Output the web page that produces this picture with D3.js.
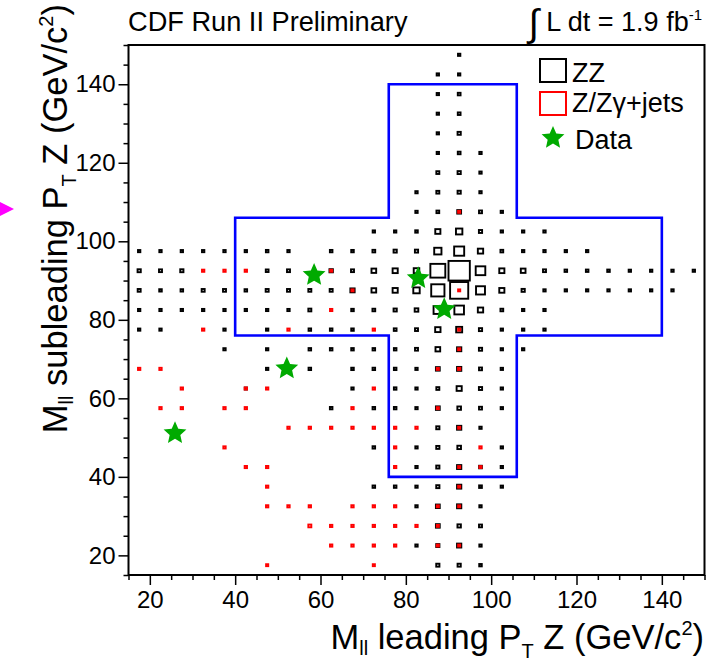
<!DOCTYPE html>
<html>
<head>
<meta charset="utf-8">
<script src="https://cdn.jsdelivr.net/npm/d3@7"></script>
<style>
  html, body { margin: 0; padding: 0; background: #fff; }
  svg { display: block; font-family: "Liberation Sans", Arial, Helvetica, sans-serif; }
</style>
</head>
<body>
<svg id="chart" width="718" height="666"></svg>
<script>
// ---------------- DATA ----------------
const xDomain = [15, 150];
const yDomain = [15, 150];
const binSize = 5;
const majorTicks = [20, 40, 60, 80, 100, 120, 140];
const minorTicks = [15, 25, 30, 35, 45, 50, 55, 65, 70, 75, 85, 90, 95, 105, 110, 115, 125, 130, 135, 145, 150];

// ZZ expectation: [x bin centre, y bin centre, relative content]
const zzBins = [
  [17.5,97.5,.11],[17.5,92.5,.15],[17.5,87.5,.14],[17.5,82.5,.11],[17.5,77.5,.11],
  [22.5,97.5,.11],[22.5,92.5,.14],[22.5,87.5,.12],[22.5,82.5,.11],[22.5,77.5,.11],
  [27.5,97.5,.11],[27.5,92.5,.15],[27.5,87.5,.12],[27.5,82.5,.11],
  [32.5,97.5,.11],[32.5,87.5,.14],[32.5,82.5,.11],
  [37.5,97.5,.11],[37.5,87.5,.14],[37.5,82.5,.11],[37.5,77.5,.11],[37.5,72.5,.11],
  [42.5,97.5,.11],[42.5,87.5,.12],[42.5,82.5,.11],[42.5,62.5,.1],
  [47.5,97.5,.12],[47.5,92.5,.13],[47.5,87.5,.14],[47.5,82.5,.11],[47.5,77.5,.11],[47.5,72.5,.11],[47.5,67.5,.11],
  [52.5,97.5,.11],[52.5,92.5,.14],[52.5,87.5,.14],[52.5,82.5,.11],
  [57.5,87.5,.14],[57.5,82.5,.14],[57.5,77.5,.12],[57.5,72.5,.12],[57.5,67.5,.12],
  [62.5,97.5,.12],[62.5,92.5,.16],[62.5,87.5,.14],[62.5,77.5,.12],[62.5,72.5,.12],[62.5,57.5,.12],
  [67.5,97.5,.12],[67.5,92.5,.14],[67.5,87.5,.2],[67.5,82.5,.12],[67.5,77.5,.12],[67.5,72.5,.12],[67.5,67.5,.12],[67.5,62.5,.11],
  [72.5,102.5,.11],[72.5,97.5,.13],[72.5,92.5,.22],[72.5,87.5,.22],[72.5,82.5,.13],[72.5,72.5,.12],[72.5,67.5,.12],[72.5,57.5,.12],[72.5,47.5,.12],[72.5,37.5,.12],
  [77.5,102.5,.11],[77.5,97.5,.15],[77.5,92.5,.24],[77.5,87.5,.24],[77.5,82.5,.15],[77.5,77.5,.13],[77.5,72.5,.12],[77.5,67.5,.12],[77.5,62.5,.12],[77.5,57.5,.12],[77.5,37.5,.12],
  [82.5,112.5,.11],[82.5,107.5,.11],[82.5,102.5,.12],[82.5,97.5,.15],[82.5,92.5,.26],[82.5,87.5,.3],[82.5,82.5,.17],[82.5,77.5,.14],[82.5,72.5,.14],[82.5,67.5,.11],[82.5,62.5,.11],[82.5,57.5,.11],[82.5,47.5,.11],[82.5,42.5,.11],[82.5,37.5,.11],[82.5,32.5,.11],[82.5,22.5,.11],
  [87.5,142.5,.11],[87.5,137.5,.11],[87.5,132.5,.11],[87.5,127.5,.11],[87.5,122.5,.11],[87.5,117.5,.14],[87.5,112.5,.14],[87.5,107.5,.13],[87.5,102.5,.24],[87.5,97.5,.34],[87.5,92.5,.7],[87.5,87.5,.62],[87.5,82.5,.4],[87.5,77.5,.25],[87.5,72.5,.22],[87.5,67.5,.18],[87.5,62.5,.14],[87.5,57.5,.18],[87.5,52.5,.15],[87.5,47.5,.15],[87.5,42.5,.15],[87.5,37.5,.15],[87.5,32.5,.18],[87.5,27.5,.18],[87.5,22.5,.15],[87.5,17.5,.15],
  [92.5,147.5,.11],[92.5,142.5,.11],[92.5,137.5,.13],[92.5,132.5,.13],[92.5,127.5,.15],[92.5,122.5,.13],[92.5,117.5,.15],[92.5,112.5,.15],[92.5,107.5,.18],[92.5,102.5,.3],[92.5,97.5,.47],[92.5,92.5,1.0],[92.5,87.5,.85],[92.5,82.5,.45],[92.5,77.5,.28],[92.5,72.5,.2],[92.5,67.5,.2],[92.5,62.5,.24],[92.5,57.5,.17],[92.5,52.5,.2],[92.5,47.5,.17],[92.5,42.5,.2],[92.5,37.5,.2],[92.5,32.5,.2],[92.5,27.5,.16],[92.5,22.5,.2],[92.5,17.5,.15],
  [97.5,122.5,.11],[97.5,117.5,.11],[97.5,112.5,.11],[97.5,107.5,.14],[97.5,102.5,.15],[97.5,97.5,.25],[97.5,92.5,.45],[97.5,87.5,.42],[97.5,82.5,.25],[97.5,77.5,.15],[97.5,72.5,.15],[97.5,67.5,.14],[97.5,62.5,.15],[97.5,57.5,.14],[97.5,52.5,.11],[97.5,42.5,.13],[97.5,37.5,.13],[97.5,32.5,.11],[97.5,27.5,.14],[97.5,22.5,.11],[97.5,17.5,.12],
  [102.5,107.5,.11],[102.5,102.5,.11],[102.5,97.5,.13],[102.5,92.5,.24],[102.5,87.5,.24],[102.5,82.5,.13],[102.5,77.5,.11],[102.5,72.5,.11],[102.5,67.5,.11],[102.5,62.5,.11],[102.5,57.5,.11],[102.5,47.5,.11],[102.5,42.5,.11],[102.5,37.5,.11],
  [107.5,102.5,.11],[107.5,97.5,.11],[107.5,92.5,.22],[107.5,87.5,.15],[107.5,82.5,.11],[107.5,77.5,.11],[107.5,72.5,.11],
  [112.5,102.5,.11],[112.5,97.5,.11],[112.5,92.5,.14],[112.5,87.5,.11],[112.5,82.5,.11],[112.5,77.5,.11],
  [117.5,97.5,.11],[117.5,92.5,.12],[117.5,87.5,.11],
  [122.5,97.5,.11],[122.5,92.5,.12],[122.5,87.5,.11],
  [127.5,92.5,.12],[127.5,87.5,.11],
  [132.5,92.5,.11],[132.5,87.5,.11],
  [137.5,92.5,.11],[137.5,87.5,.11],
  [142.5,92.5,.11],[142.5,87.5,.11],
  [147.5,92.5,.11]
];

// Z/Zgamma+jets expectation: [x bin centre, y bin centre, relative content]
const zjBins = [
  [32.5,92.5,.11],[37.5,92.5,.11],[42.5,92.5,.11],[62.5,92.5,.1],[32.5,77.5,.11],[52.5,77.5,.11],[72.5,77.5,.11],[62.5,82.5,.11],[67.5,87.5,.1],
  [17.5,67.5,.11],[22.5,67.5,.11],[27.5,62.5,.11],[42.5,62.5,.11],[47.5,62.5,.11],[72.5,62.5,.11],
  [22.5,57.5,.11],[27.5,57.5,.11],[37.5,57.5,.11],[42.5,57.5,.11],[67.5,57.5,.11],
  [52.5,52.5,.11],[57.5,52.5,.11],[62.5,52.5,.11],[67.5,52.5,.11],[72.5,52.5,.11],[77.5,52.5,.11],[82.5,52.5,.11],
  [37.5,47.5,.11],[77.5,47.5,.11],[42.5,42.5,.11],[47.5,42.5,.11],[77.5,42.5,.11],[47.5,37.5,.11],
  [47.5,32.5,.11],[52.5,32.5,.11],[57.5,32.5,.11],[67.5,32.5,.11],[72.5,32.5,.11],[77.5,32.5,.11],
  [57.5,27.5,.14],[62.5,27.5,.11],[67.5,27.5,.11],[72.5,27.5,.11],[77.5,27.5,.11],[82.5,27.5,.11],
  [62.5,22.5,.11],[67.5,22.5,.11],[72.5,22.5,.11],[77.5,22.5,.11],[47.5,17.5,.1],[72.5,17.5,.1],
  [92.5,107.5,.1],[92.5,87.5,.1],[92.5,77.5,.1],[92.5,72.5,.1],[87.5,67.5,.1],[92.5,67.5,.11],[87.5,57.5,.1],
  [92.5,52.5,.1],[92.5,42.5,.1],[97.5,42.5,.1],[92.5,37.5,.1],[87.5,32.5,.1],[92.5,32.5,.1],
  [87.5,27.5,.1],[87.5,22.5,.1],[92.5,22.5,.1],[97.5,47.5,.11]
];

// Observed data events: [M leading, M subleading]
const dataPoints = [[25.9,51.1],[52.1,67.6],[58.5,91.4],[82.9,90.6],[89.0,82.7]];

// Signal region (cross-shaped) cut boundaries
const innerCut = [76, 106];
const outerCut = [40, 140];

const legendLabels = ["ZZ", "Z/Zγ+jets", "Data"];

// ---------------- DRAW ----------------
const svg = d3.select("#chart");
const x = d3.scaleLinear().domain(xDomain).range([128.5, 704.5]);
const y = d3.scaleLinear().domain(yDomain).range([575, 45]);
const bw = x(xDomain[0] + binSize) - x(xDomain[0]);
const bh = y(yDomain[0]) - y(yDomain[0] + binSize);

// magenta arrow artifact at left edge
svg.append("path").attr("d", "M0,202 L14,209 L0,216 Z").attr("fill", "#ff00ff");

// boxes
function drawBoxes(bins, color) {
  svg.append("g").selectAll("rect").data(bins).join("rect")
    .attr("x", d => x(d[0]) - d[2] * bw / 2)
    .attr("y", d => y(d[1]) - d[2] * bh / 2)
    .attr("width", d => d[2] * bw)
    .attr("height", d => d[2] * bh)
    .attr("fill", "none")
    .attr("stroke", color)
    .attr("stroke-width", 1.9);
}
drawBoxes(zzBins, "#000");
drawBoxes(zjBins, "#ff0000");

// cross-shaped signal region
const [a, b] = innerCut, [c, e] = outerCut;
const crossPts = [[a,e],[b,e],[b,b],[e,b],[e,a],[b,a],[b,c],[a,c],[a,a],[c,a],[c,b],[a,b]];
svg.append("path")
  .attr("d", d3.line().x(d => x(d[0])).y(d => y(d[1]))(crossPts) + "Z")
  .attr("fill", "none").attr("stroke", "#0000ff").attr("stroke-width", 2.6);

// star shape
function starPath(R, r) {
  const pts = [];
  for (let i = 0; i < 10; i++) {
    const ang = -Math.PI / 2 + i * Math.PI / 5;
    const rr = i % 2 === 0 ? R : r;
    pts.push([rr * Math.cos(ang), rr * Math.sin(ang)]);
  }
  return "M" + pts.map(p => p[0].toFixed(2) + "," + p[1].toFixed(2)).join("L") + "Z";
}
const starD = starPath(12, 5.6);
svg.append("g").selectAll("path").data(dataPoints).join("path")
  .attr("d", starD)
  .attr("transform", d => `translate(${x(d[0])},${y(d[1])})`)
  .attr("fill", "#00aa00");

// frame
svg.append("rect").attr("x", x.range()[0]).attr("y", y.range()[1])
  .attr("width", x.range()[1] - x.range()[0]).attr("height", y.range()[0] - y.range()[1])
  .attr("fill", "none").attr("stroke", "#000").attr("stroke-width", 2);

// axes
const fmt = d3.format("d");
function styleAxis(g) {
  g.select(".domain").remove();
  g.selectAll("line").attr("stroke", "#000").attr("stroke-width", 1.5);
  g.selectAll("text").attr("font-size", 24).attr("fill", "#000")
    .attr("font-family", "'Liberation Sans', Arial, sans-serif");
}
svg.append("g").attr("transform", `translate(0,${y.range()[0]})`)
  .call(d3.axisBottom(x).tickValues(minorTicks).tickSize(5).tickFormat("")).call(styleAxis);
svg.append("g").attr("transform", `translate(0,${y.range()[0]})`)
  .call(d3.axisBottom(x).tickValues(majorTicks).tickSize(10).tickPadding(6).tickFormat(fmt)).call(styleAxis);
svg.append("g").attr("transform", `translate(${x.range()[0]},0)`)
  .call(d3.axisLeft(y).tickValues(minorTicks).tickSize(5).tickFormat("")).call(styleAxis);
svg.append("g").attr("transform", `translate(${x.range()[0]},0)`)
  .call(d3.axisLeft(y).tickValues(majorTicks).tickSize(10).tickPadding(3).tickFormat(fmt)).call(styleAxis);

// titles
svg.append("text").attr("x", 128).attr("y", 31).attr("font-size", 27.2).text("CDF Run II Preliminary");
const lum = svg.append("text").attr("x", 702).attr("y", 31).attr("text-anchor", "end").attr("font-size", 27);
lum.append("tspan").attr("font-size", 38).attr("dy", 5).text("∫");
lum.append("tspan").attr("dy", -5).text("  L dt = 1.9 fb");
lum.append("tspan").attr("font-size", 15).attr("dy", -11).text("-1");

// x axis title
const xt = svg.append("text").attr("x", 704).attr("y", 649).attr("text-anchor", "end").attr("font-size", 34.5);
xt.append("tspan").text("M");
xt.append("tspan").attr("font-size", 20).attr("dy", 6).text("ll");
xt.append("tspan").attr("dy", -6).text(" leading P");
xt.append("tspan").attr("font-size", 20).attr("dy", 9).text("T");
xt.append("tspan").attr("dy", -9).text(" Z (GeV/c");
xt.append("tspan").attr("font-size", 20).attr("dy", -14).text("2");
xt.append("tspan").attr("dy", 14).text(")");

// y axis title
const yt = svg.append("text").attr("transform", "translate(67,4) rotate(-90)").attr("text-anchor", "end").attr("font-size", 34.5);
yt.append("tspan").text("M");
yt.append("tspan").attr("font-size", 20).attr("dy", 6).text("ll");
yt.append("tspan").attr("dy", -6).text(" subleading P");
yt.append("tspan").attr("font-size", 20).attr("dy", 9).text("T");
yt.append("tspan").attr("dy", -9).text(" Z (GeV/c");
yt.append("tspan").attr("font-size", 20).attr("dy", -14).text("2");
yt.append("tspan").attr("dy", 14).text(")");

// legend
const lg = svg.append("g");
lg.append("rect").attr("x", 540).attr("y", 59).attr("width", 26).attr("height", 23)
  .attr("fill", "none").attr("stroke", "#000").attr("stroke-width", 2);
lg.append("rect").attr("x", 540).attr("y", 92).attr("width", 26).attr("height", 23)
  .attr("fill", "none").attr("stroke", "#ff0000").attr("stroke-width", 2);
lg.append("path").attr("d", starPath(12, 5.6)).attr("transform", "translate(553,138)").attr("fill", "#00aa00");
const legY = [82, 112, 149];
lg.selectAll("text").data(legendLabels).join("text")
  .attr("x", (d, i) => i === 2 ? 575 : 572).attr("y", (d, i) => legY[i])
  .attr("font-size", 27).text(d => d);
</script>
</body>
</html>
